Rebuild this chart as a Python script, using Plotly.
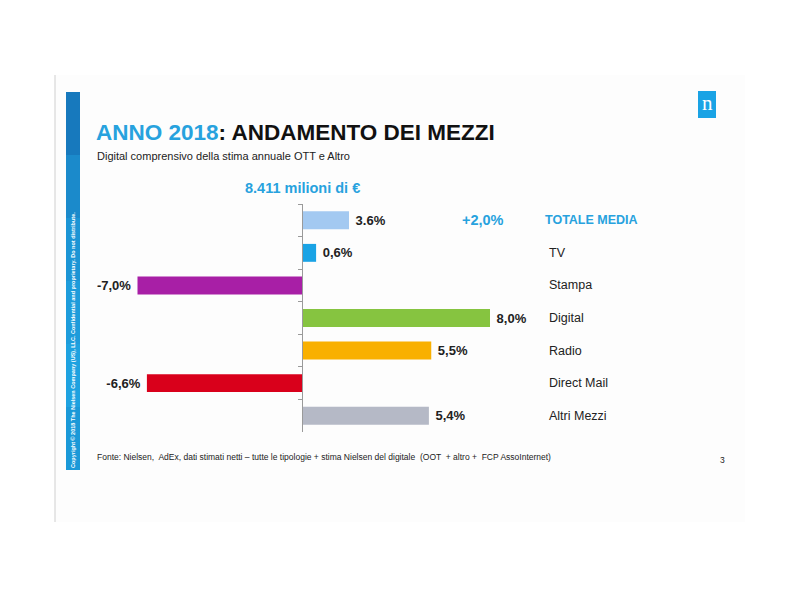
import plotly.graph_objects as go

# ---- data ----
categories = ["TOTALE MEDIA", "TV", "Stampa", "Digital", "Radio", "Direct Mail", "Altri Mezzi"]
values = [2.0, 0.6, -7.0, 8.0, 5.5, -6.6, 5.4]
value_labels = ["3.6%", "0,6%", "-7,0%", "8,0%", "5,5%", "-6,6%", "5,4%"]
bar_colors = ["#a3c9f1", "#1aa3e5", "#a81fa6", "#86c440", "#f9b000", "#d9001b", "#b5b9c6"]
total_label = "+2,0%"
total_amount = "8.411 milioni di €"

W, H = 800, 600
OFF = 8  # page body margin
def px(x):
    return (x - OFF) / W
def py(y):
    return 1 - (y - OFF) / H

BLUE = "#27a2de"
FONT = "Liberation Sans, Arial, sans-serif"

fig = go.Figure()
fig.add_trace(go.Bar(
    y=categories, x=values, orientation="h",
    marker=dict(color=bar_colors, line=dict(width=0)),
    text=value_labels, texttemplate="\u00a0%{text}\u00a0", textposition="outside",
    textfont=dict(family=FONT, size=13, color="#222222", weight="bold"),
    cliponaxis=False, hoverinfo="skip", showlegend=False,
))

x0_px, x1_px, zero_px, scale = 100, 540, 302, 23.5
fig.update_layout(
    width=W, height=H,
    margin=dict(l=0, r=0, t=0, b=0),
    paper_bgcolor="white", plot_bgcolor="rgba(0,0,0,0)",
    bargap=0.45,
    font=dict(family=FONT),
    xaxis=dict(domain=[px(x0_px), px(x1_px)],
               range=[(x0_px - zero_px) / scale, (x1_px - zero_px) / scale],
               visible=False, fixedrange=True),
    yaxis=dict(domain=[py(432), py(204)], type="category",
               categoryorder="array", categoryarray=categories,
               autorange="reversed",
               anchor="free", position=px(zero_px),
               showline=True, linecolor="#9a9a9a", linewidth=1,
               ticks="outside", tickson="boundaries", ticklen=4, tickcolor="#9a9a9a",
               showticklabels=False, showgrid=False, zeroline=False, fixedrange=True),
)

shapes = []
# slide background and border
shapes.append(dict(type="rect", xref="paper", yref="paper",
                   x0=px(55), x1=px(745), y0=py(522), y1=py(75),
                   fillcolor="#fdfdfd", line=dict(width=0), layer="below"))
shapes.append(dict(type="line", xref="paper", yref="paper",
                   x0=px(55), x1=px(55), y0=py(522), y1=py(75),
                   line=dict(color="#cfcfcf", width=1), layer="below"))
# left blue strip (approximate gradient with bands)
strip_cols = ["#1779bd", "#1b8acb", "#1c95d5", "#1d9cdb", "#1ea2e0", "#1b99d8"]
top, bot = 92, 470
n = len(strip_cols)
for i, c in enumerate(strip_cols):
    yt = top + (bot - top) * i / n
    yb = top + (bot - top) * (i + 1) / n
    shapes.append(dict(type="rect", xref="paper", yref="paper",
                       x0=px(66), x1=px(80), y0=py(yb), y1=py(yt),
                       fillcolor=c, line=dict(width=0), layer="below"))
# logo square
shapes.append(dict(type="rect", xref="paper", yref="paper",
                   x0=px(698), x1=px(716), y0=py(118), y1=py(91),
                   fillcolor="#1aa3e5", line=dict(width=0), layer="below"))
fig.update_layout(shapes=shapes)

ann = []
ann.append(dict(text="n", xref="paper", yref="paper", x=px(707), y=py(103),
                xanchor="center", yanchor="middle",
                showarrow=False, font=dict(family="Liberation Serif, serif", size=21, color="white")))
ann.append(dict(text="Copyright © 2018 The Nielsen Company (US), LLC. Confidential and proprietary. Do not distribute.",
                xref="paper", yref="paper", x=px(73), y=py(340), textangle=-90,
                xanchor="center", yanchor="middle",
                showarrow=False, font=dict(family=FONT, size=5.5, color="white", weight="bold")))
ann.append(dict(text=f"<span style='color:{BLUE}'>ANNO 2018</span>: ANDAMENTO DEI MEZZI",
                xref="paper", yref="paper", x=px(94), y=py(132), xanchor="left", yanchor="middle",
                showarrow=False, font=dict(family=FONT, size=22.5, color="#111111", weight="bold")))
ann.append(dict(text="Digital comprensivo della stima annuale OTT e Altro",
                xref="paper", yref="paper", x=px(95), y=py(156), xanchor="left", yanchor="middle",
                showarrow=False, font=dict(family=FONT, size=11, color="#222222")))
ann.append(dict(text=total_amount, xref="paper", yref="paper", x=px(302), y=py(188),
                xanchor="center", yanchor="middle", showarrow=False,
                font=dict(family=FONT, size=14.5, color=BLUE, weight="bold")))
ann.append(dict(text=total_label, xref="paper", yref="y", x=px(483), y=categories[0],
                xanchor="center", yanchor="middle", showarrow=False,
                font=dict(family=FONT, size=14.5, color=BLUE, weight="bold")))
for i, c in enumerate(categories):
    if i == 0:
        f = dict(family=FONT, size=12.5, color=BLUE, weight="bold")
        xx = 543
    else:
        f = dict(family=FONT, size=12.5, color="#222222")
        xx = 547
    ann.append(dict(text=c, xref="paper", yref="y", x=px(xx), y=c,
                    xanchor="left", yanchor="middle", showarrow=False, font=f))
ann.append(dict(text="Fonte: Nielsen,  AdEx, dati stimati netti – tutte le tipologie + stima Nielsen del digitale  (OOT  + altro +  FCP AssoInternet)",
                xref="paper", yref="paper", x=px(95), y=py(457), xanchor="left", yanchor="middle",
                showarrow=False, font=dict(family=FONT, size=8.5, color="#222222")))
ann.append(dict(text="3", xref="paper", yref="paper", x=px(722), y=py(460),
                xanchor="center", yanchor="middle", showarrow=False,
                font=dict(family=FONT, size=8.5, color="#222222")))
fig.update_layout(annotations=ann)

fig.write_html("out.html")
